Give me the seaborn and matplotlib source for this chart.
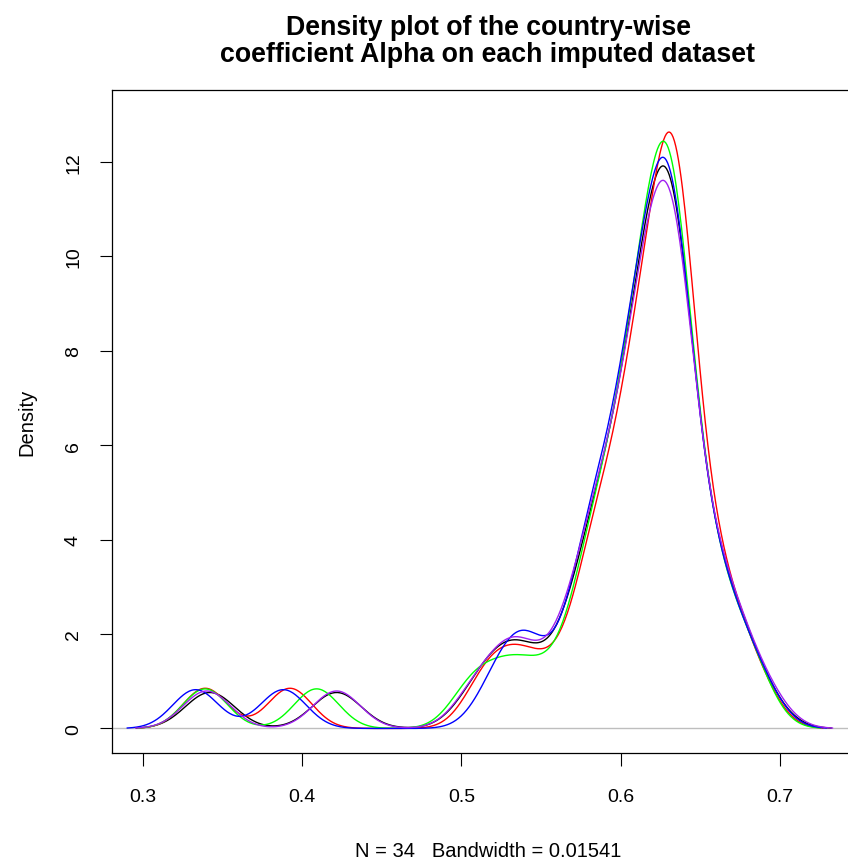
import numpy as np
import pandas as pd
import matplotlib
matplotlib.use("Agg")
import matplotlib.pyplot as plt
import seaborn as sns

# Country-wise coefficient Alpha, one list per imputed dataset (N = 34 each)
alpha_black = [0.342, 0.4216, 0.5118, 0.5295, 0.5397, 0.5619,
               0.5805, 0.5825, 0.5843, 0.5863, 0.5982,
               0.6075, 0.6085, 0.6095, 0.6105, 0.6115, 0.6126, 0.6182,
               0.6288, 0.6295, 0.6302, 0.6309, 0.6316, 0.6323, 0.6330, 0.6337,
               0.6344, 0.6351, 0.6358, 0.6365, 0.6628, 0.6642, 0.6656, 0.6859]
alpha_red = [0.339, 0.3923, 0.5143, 0.5302, 0.5456, 0.5662,
             0.5832, 0.5852, 0.5870, 0.5890,
             0.6073, 0.6083, 0.6093, 0.6103, 0.6113, 0.6123, 0.6134,
             0.6317, 0.6320, 0.6323, 0.6326, 0.6329, 0.6332, 0.6335, 0.6338,
             0.6341, 0.6344, 0.6347, 0.6350, 0.6476, 0.6592, 0.6612, 0.6690, 0.6856]
alpha_green = [0.339, 0.409, 0.5067, 0.5267, 0.5443, 0.5659,
               0.5822, 0.5842, 0.5860, 0.5880, 0.6041,
               0.6072, 0.6082, 0.6092, 0.6102, 0.6112, 0.6122, 0.6238,
               0.6280, 0.6287, 0.6294, 0.6301, 0.6308, 0.6315, 0.6322, 0.6329,
               0.6336, 0.6343, 0.6350, 0.6535, 0.6550, 0.6566, 0.6728, 0.6834]
alpha_blue = [0.333, 0.3881, 0.5224, 0.5377, 0.5452, 0.5705,
              0.5811, 0.5831, 0.5849, 0.5869,
              0.6051, 0.6061, 0.6071, 0.6081, 0.6091, 0.6101, 0.6111, 0.6219,
              0.6280, 0.6287, 0.6294, 0.6301, 0.6308, 0.6315, 0.6322, 0.6329,
              0.6336, 0.6343, 0.6350, 0.6507, 0.6558, 0.6613, 0.6710, 0.6863]
alpha_purple = [0.340, 0.4216, 0.5104, 0.5310, 0.5373, 0.5616, 0.5727,
                0.5842, 0.5862, 0.5880, 0.5900,
                0.6075, 0.6085, 0.6095, 0.6105, 0.6115, 0.6125, 0.6135, 0.6258,
                0.6290, 0.6298, 0.6306, 0.6313, 0.6320, 0.6327, 0.6334, 0.6342,
                0.6349, 0.6400, 0.6441, 0.6616, 0.6654, 0.6674, 0.6886]

# Kernel bandwidth of each dataset's density estimate
bandwidths = [0.01541, 0.0138, 0.0140, 0.0143, 0.0148]
datasets = [alpha_black, alpha_red, alpha_green, alpha_blue, alpha_purple]
line_colors = ["#000000", "#FF0000", "#00FF00", "#0000FF", "#A020F0"]

title_lines = ["Density plot of the country-wise",
               "coefficient Alpha on each imputed dataset"]
xlabel_text = "N = 34   Bandwidth = 0.01541"
ylabel_text = "Density"
x_ticks = [0.3, 0.4, 0.5, 0.6, 0.7]
y_ticks = [0, 2, 4, 6, 8, 10, 12]

plt.rcParams["font.family"] = ["Liberation Sans", "DejaVu Sans"]

W, H = 848, 862
fig = plt.figure(figsize=(W / 100, H / 100), dpi=100)
ax = fig.add_axes([112 / W, (H - 754) / H, (864 - 112) / W, (754 - 91) / H])

ax.axhline(0, color="#BEBEBE", lw=1.0, zorder=0)
for vals, bw, col in zip(datasets, bandwidths, line_colors):
    df = pd.DataFrame({"alpha": vals})
    sns.kdeplot(data=df, x="alpha", bw_method=bw / np.std(vals, ddof=1),
                gridsize=512, cut=3, color=col, lw=1.0, ax=ax)

ax.set_xlim(0.2805, 0.7528)
ax.set_ylim(-0.52, 13.52)
ax.set_xticks(x_ticks)
ax.set_xticklabels([f"{t:.1f}" for t in x_ticks])
ax.set_yticks(y_ticks)
ax.set_yticklabels([str(t) for t in y_ticks])
ax.set_xlabel("")
ax.set_ylabel("")
for sp in ax.spines.values():
    sp.set_color("black")
    sp.set_linewidth(0.9)

ax.tick_params(axis="x", direction="out", length=9.5, width=0.8, labelsize=14, pad=16)
ax.tick_params(axis="y", direction="out", length=8.6, width=0.8, labelsize=14, pad=13,
               labelrotation=90)
for lbl in ax.get_yticklabels():
    lbl.set_va("center")

fig.text(488 / W, 1 - 28 / H, title_lines[0], ha="center", va="center",
         fontsize=19.3, fontweight="bold")
fig.text(488 / W, 1 - 55 / H, title_lines[1], ha="center", va="center",
         fontsize=19.3, fontweight="bold")
fig.text(488 / W, 1 - 852 / H, xlabel_text, ha="center", va="center", fontsize=14.5)
fig.text(27 / W, 1 - 422 / H, ylabel_text, ha="center", va="center", rotation=90,
         fontsize=14.5)

fig.savefig("out.png", dpi=100)
